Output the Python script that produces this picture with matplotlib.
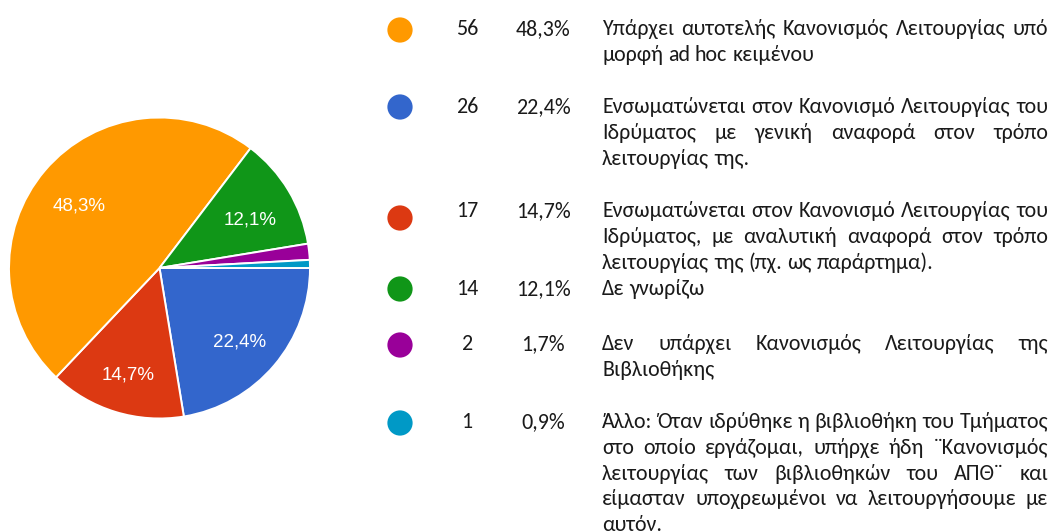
import matplotlib
matplotlib.use("Agg")
import matplotlib.pyplot as plt
from matplotlib import transforms
import numpy as np

# ---- data ----
counts = [56, 26, 17, 14, 2, 1]
pct_labels = ["48,3%", "22,4%", "14,7%", "12,1%", "1,7%", "0,9%"]
colors = ["#FF9900", "#3366CC", "#DC3912", "#109618", "#990099", "#0099C6"]
answers = [
    ["Υπάρχει αυτοτελής Κανονισμός Λειτουργίας υπό",
     "μορφή ad hoc κειμένου"],
    ["Ενσωματώνεται στον Κανονισμό Λειτουργίας του",
     "Ιδρύματος με γενική αναφορά στον τρόπο",
     "λειτουργίας της."],
    ["Ενσωματώνεται στον Κανονισμό Λειτουργίας του",
     "Ιδρύματος, με αναλυτική αναφορά στον τρόπο",
     "λειτουργίας της (πχ. ως παράρτημα)."],
    ["Δε γνωρίζω"],
    ["Δεν υπάρχει Κανονισμός Λειτουργίας της",
     "Βιβλιοθήκης"],
    ["Άλλο: Όταν ιδρύθηκε η βιβλιοθήκη του Τμήματος",
     "στο οποίο εργάζομαι, υπήρχε ήδη ¨Κανονισμός",
     "λειτουργίας των βιβλιοθηκών του ΑΠΘ¨ και",
     "είμασταν υποχρεωμένοι να λειτουργήσουμε με",
     "αυτόν."],
]
pie_order = [1, 2, 0, 3, 4, 5]   # clockwise from 3 o'clock
label_min = 5.0                   # only label slices above this percent

# ---- layout ----
W, H = 1052, 532
fig = plt.figure(figsize=(W / 100, H / 100), dpi=100)
fig.patch.set_facecolor("white")

cx, cy, R = 159.5, 268.0, 150.5
pax = fig.add_axes([(cx - R) / W, (H - cy - R) / H, 2 * R / W, 2 * R / H])
vals = [counts[i] for i in pie_order]
cols = [colors[i] for i in pie_order]
wedges, _ = pax.pie(vals, colors=cols, startangle=0, counterclock=False,
                    wedgeprops=dict(edgecolor="white", linewidth=1.4))
pax.set_xlim(-1, 1)
pax.set_ylim(-1, 1)
pax.set_aspect("equal")
pax.axis("off")
total = sum(counts)
lab_tr = transforms.offset_copy(pax.transData, fig=fig, x=0, y=-6, units="dots")
for w, i in zip(wedges, pie_order):
    if 100 * counts[i] / total < label_min:
        continue
    mid = np.deg2rad((w.theta1 + w.theta2) / 2)
    r = 0.70
    pax.text(r * np.cos(mid), r * np.sin(mid), pct_labels[i], color="white",
             ha="center", va="center", fontsize=13.5, transform=lab_tr,
             family=["Liberation Sans", "DejaVu Sans"])

# legend / table area in pixel coordinates
lax = fig.add_axes([0, 0, 1, 1])
lax.set_xlim(0, W)
lax.set_ylim(H, 0)
lax.axis("off")
lax.set_zorder(-1)

font = ["Carlito", "Lato", "DejaVu Sans"]
renderer = fig.canvas.get_renderer()


def width_of(s, size):
    t = lax.text(0, 0, s, fontsize=size, family=font)
    w = t.get_window_extent(renderer=renderer).width
    t.remove()
    return w


# size the font so a reference line has the reference width (103 px)
fs = 15.8 * 103.0 / width_of("Δε γνωρίζω", 15.8)
space_w = width_of("a a", fs) - width_of("aa", fs)

baselines = [35, 113, 217, 295, 350, 428]
circle_y = [30, 107, 218, 289, 345, 423]
line_h = 25.8
x_circle, x_count, x_pct, x_text, x_right = 400, 467, 543, 602, 1048
tcol = "#1a1a1a"

lax.scatter([x_circle] * len(counts), circle_y, s=330, c=colors,
            edgecolors="none", zorder=3)

for k in range(len(counts)):
    yb = baselines[k]
    lax.text(x_count, yb, str(counts[k]), fontsize=fs, family=font,
             ha="center", va="baseline", color=tcol)
    lax.text(x_pct, yb, pct_labels[k], fontsize=fs, family=font,
             ha="center", va="baseline", color=tcol)
    lines = answers[k]
    for j, line in enumerate(lines):
        y = yb + j * line_h
        words = line.split(" ")
        ts = [lax.text(0, y, wd, fontsize=fs, family=font, ha="left",
                       va="baseline", color=tcol) for wd in words]
        ws = [t.get_window_extent(renderer=renderer).width for t in ts]
        justify = (j < len(lines) - 1) and len(words) > 1
        if justify:
            gap = (x_right - x_text - sum(ws)) / (len(words) - 1)
        else:
            gap = space_w
        x = x_text
        for t, w in zip(ts, ws):
            t.set_x(x)
            x += w + gap

fig.savefig("out.png", dpi=100, facecolor="white")
